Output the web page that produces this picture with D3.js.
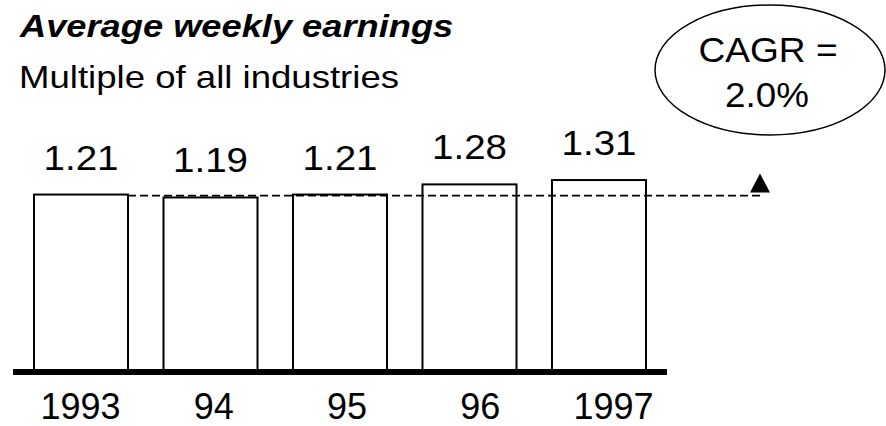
<!DOCTYPE html>
<html>
<head>
<meta charset="utf-8">
<script src="https://cdn.jsdelivr.net/npm/d3@7"></script>
<style>
  html, body { margin: 0; padding: 0; background: #fff; overflow: hidden; }
  svg { display: block; }
  text { font-family: "Liberation Sans", Arial, Helvetica, sans-serif; fill: #000; }
</style>
</head>
<body>
<script>
// Chart data
const years = ["1993", "94", "95", "96", "1997"];
const values = [1.21, 1.19, 1.21, 1.28, 1.31];
const titleText = "Average weekly earnings";
const subtitleText = "Multiple of all industries";
const cagrLines = ["CAGR =", "2.0%"];

const W = 886, H = 426;
const svg = d3.select("body").append("svg").attr("width", W).attr("height", H);

// Scales
const x = d3.scaleBand().domain(years).range([34, 646]).paddingInner(0.274).paddingOuter(0);
const y = d3.scaleLinear().domain([0, 2]).range([370, 80]);
const xLabel = d3.scalePoint().domain(years).range([80, 613]);

// Text helper with a horizontal stretch factor
function stretchedText(parent, tx, ty, sx, str, size, opts = {}) {
  const g = parent.append("g").attr("transform", `translate(${tx},${ty}) scale(${sx},1)`);
  const t = g.append("text")
    .attr("font-size", size)
    .attr("text-anchor", opts.anchor || "start")
    .text(str);
  if (opts.bold) t.attr("font-weight", "bold");
  if (opts.italic) t.attr("font-style", "italic");
  return g;
}

// Title and subtitle
stretchedText(svg, 20, 37, 1.17, titleText, 31, { bold: true, italic: true });
stretchedText(svg, 19, 88, 1.18, subtitleText, 31);

// Bars
svg.append("g").selectAll("rect")
  .data(values)
  .join("rect")
  .attr("x", (d, i) => x(years[i]))
  .attr("y", d => y(d))
  .attr("width", x.bandwidth())
  .attr("height", d => y(0) - y(d))
  .attr("fill", "#fff")
  .attr("stroke", "#000")
  .attr("stroke-width", 2);

// Value labels
const fmt = d3.format(".2f");
values.forEach((d, i) => {
  stretchedText(svg, x(years[i]) + x.bandwidth() / 2, y(d) - 25, 1.1, fmt(d), 35, { anchor: "middle" });
});

// Dashed reference line at the first year's level, ending in an arrowhead
const refY = y(values[0]);
const arrowX = 760;
svg.append("line")
  .attr("x1", x(years[0]) + x.bandwidth()).attr("x2", arrowX)
  .attr("y1", refY + 1).attr("y2", refY + 1)
  .attr("stroke", "#000").attr("stroke-width", 1.8)
  .attr("stroke-dasharray", "8,4");
svg.append("path")
  .attr("d", `M${arrowX},${refY - 21} L${arrowX + 10},${refY - 2} L${arrowX - 10},${refY - 2} Z`)
  .attr("fill", "#000");

// Baseline
svg.append("line")
  .attr("x1", 13).attr("x2", 667)
  .attr("y1", y(0) + 2).attr("y2", y(0) + 2)
  .attr("stroke", "#000").attr("stroke-width", 6);

// Year axis
const axis = svg.append("g")
  .attr("transform", `translate(0,${y(0)})`)
  .call(d3.axisBottom(xLabel).tickSize(0).tickPadding(0));
axis.select(".domain").remove();
axis.selectAll("text")
  .attr("dy", null)
  .attr("y", 49)
  .attr("font-size", 36)
  .attr("font-family", "Liberation Sans, Arial, sans-serif")
  .attr("fill", "#000");

// CAGR callout
const cx = 770, cy = 70;
svg.append("ellipse")
  .attr("cx", cx).attr("cy", cy).attr("rx", 115).attr("ry", 65)
  .attr("fill", "none").attr("stroke", "#000").attr("stroke-width", 1.5);
stretchedText(svg, cx - 2, 62, 1.06, cagrLines[0], 35, { anchor: "middle" });
stretchedText(svg, cx - 3, 107, 1.05, cagrLines[1], 35, { anchor: "middle" });
</script>
</body>
</html>
